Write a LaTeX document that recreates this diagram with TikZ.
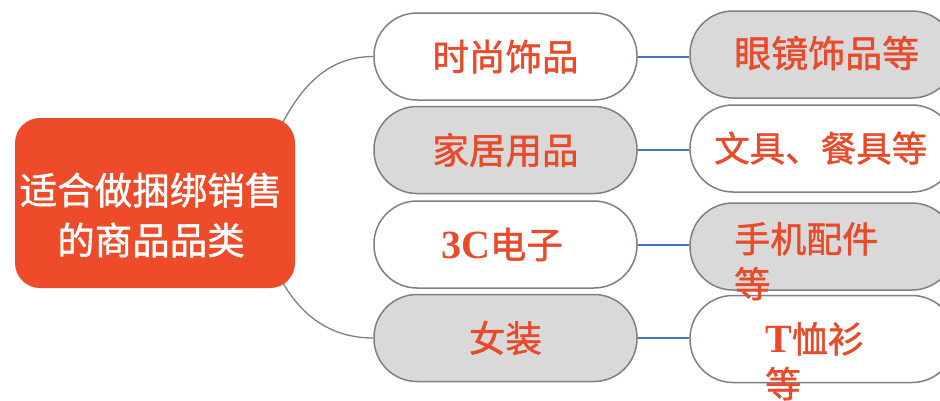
\documentclass[tikz,border=0pt]{standalone}
\usepackage{fontspec}
\newfontfamily\cjk{Noto Sans CJK SC}[FakeBold=1.2]
\newfontfamily\latserif{Liberation Serif}
\usetikzlibrary{backgrounds}
\definecolor{cored}{HTML}{EE4B2B}
\definecolor{txtred}{HTML}{E84A2A}
\definecolor{fillgray}{HTML}{D9D9D9}
\definecolor{pillgray}{HTML}{7F7F7F}
\definecolor{linkblue}{HTML}{4472C4}
\begin{document}
\begin{tikzpicture}[x=1pt,y=-1pt,
  pill/.style={draw=pillgray, line width=1.5pt, rounded corners=43pt,
    minimum width=263pt, minimum height=87pt, inner sep=0pt,
    font=\cjk\fontsize{36.5}{45}\selectfont, text=txtred},
  wpill/.style={pill, fill=white},
  gpill/.style={pill, fill=fillgray},
  rpill/.style={minimum width=265pt},
  rtext/.style={font=\cjk\fontsize{37}{45}\selectfont, text=txtred, inner sep=0pt, align=left},
  link/.style={draw=linkblue, line width=2pt},
  branch/.style={draw=pillgray, line width=1.3pt}]
\clip (0,0) rectangle (940,400);
% central node
\node[fill=cored, rounded corners=25pt, minimum width=280pt, minimum height=170pt, inner sep=0pt] (root) at (155,203) {};
\node[text=white, font=\cjk\fontsize{37.5}{50}\selectfont, align=center, inner sep=0pt] (roottext) at (151,215) {适合做捆绑销售\\的商品品类};
% middle column
\node[wpill] (m1) at (505.5,56.5) {时尚饰品};
\node[gpill] (m2) at (505.5,150) {家居用品};
\node[wpill] (m3) at (505.5,244.5) {{\latserif\bfseries\fontsize{40}{45}\selectfont 3C}电子\hspace*{7pt}};
\node[gpill] (m4) at (505.5,338) {女装};
% right column
\node[gpill, rpill] (r1) at (822.5,54.5) {};
\node[wpill, rpill] (r2) at (822.5,148.5) {};
\node[gpill, rpill] (r3) at (822.5,246.5) {};
\node[wpill, rpill] (r4) at (822.5,339) {};
\node[rtext, anchor=west] (t1) at (734,53) {眼镜饰品等};
\node[rtext, anchor=west, font=\cjk\fontsize{35.5}{45}\selectfont] (t2) at (714,148) {文具、餐具等};
\node[rtext, anchor=north west, font=\cjk\fontsize{36}{45}\selectfont] (t3) at (734,222) {手机配件\\等};
\node[rtext, anchor=north west, font=\cjk\fontsize{36}{45}\selectfont] (t4) at (765,322) {{\latserif\bfseries\fontsize{40}{45}\selectfont T}恤衫\\等};
% connectors
\draw[link] (m1.east) -- (m1.east -| r1.west);
\draw[link] (m2.east) -- (m2.east -| r2.west);
\draw[link] (m3.east) -- (m3.east -| r3.west);
\draw[link] (m4.east) -- (m4.east -| r4.west);
\begin{scope}[on background layer]
\fill[white] (0,0) rectangle (940,400);
\draw[branch] ([xshift=-20pt,yshift=-20pt]root.north east) to[out=65,in=180] (m1.west);
\draw[branch] ([xshift=-20pt,yshift=20pt]root.south east) to[out=-65,in=180] (m4.west);
\end{scope}
\end{tikzpicture}
\end{document}
